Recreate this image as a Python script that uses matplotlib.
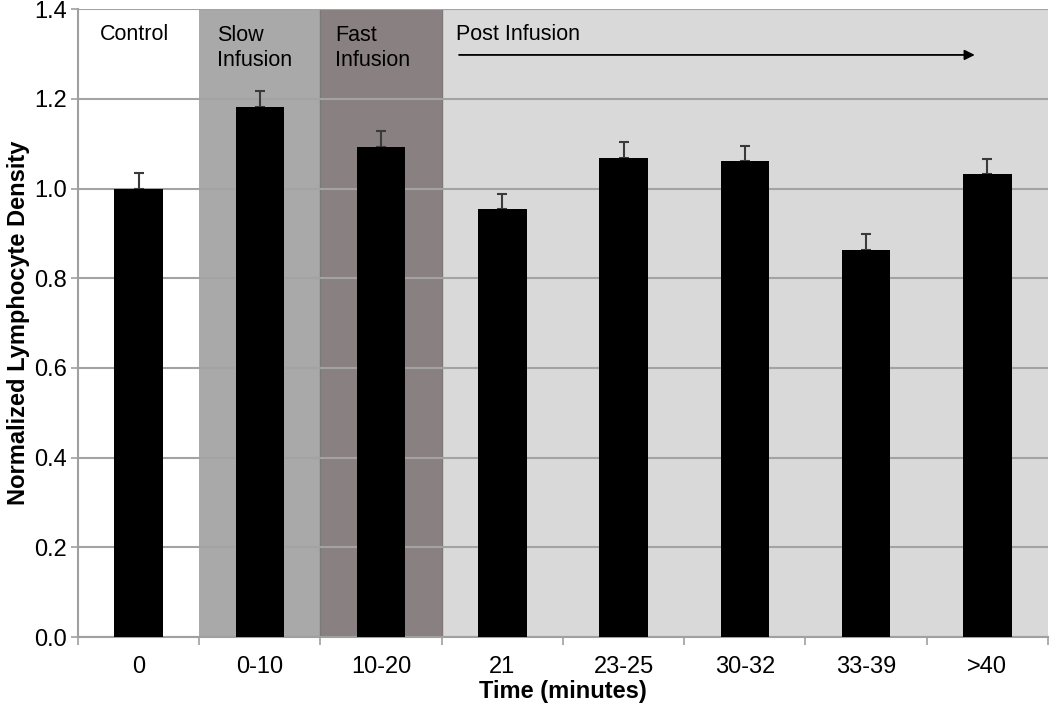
import numpy as np
import matplotlib.pyplot as plt

plt.rcParams['font.family'] = ['Liberation Sans', 'DejaVu Sans']

categories = ['0', '0-10', '10-20', '21', '23-25', '30-32', '33-39', '>40']
density = [1.000, 1.182, 1.093, 0.954, 1.069, 1.061, 0.864, 1.032]
err_up = [0.034, 0.036, 0.036, 0.033, 0.034, 0.035, 0.034, 0.034]
yticks = [0.0, 0.2, 0.4, 0.6, 0.8, 1.0, 1.2, 1.4]

fig = plt.figure(figsize=(10.5, 7.07), dpi=100)
ax = fig.add_axes([0.0743, 0.099, 0.9237, 0.888])

x = np.arange(len(categories))
ax.set_xlim(-0.5, len(categories) - 0.5)
ax.set_ylim(0, 1.4)

# phase shading
ax.axvspan(0.5, 1.5, color='#a9a9a9', zorder=0, lw=0)
ax.axvspan(1.5, 2.5, color='#898181', zorder=0, lw=0)
ax.axvspan(2.5, 7.5, color='#d9d9d9', zorder=0, lw=0)
ax.axvline(1.5, color='#7a7a7a', lw=1, zorder=0.5)
ax.axvline(2.5, color='#7f7777', lw=1, zorder=0.5)

ax.set_yticks(yticks)
ax.set_yticklabels([f'{v:.1f}' for v in yticks])
ax.grid(axis='y', color='#a3a3a3', lw=1.5, zorder=1)
ax.set_axisbelow(True)

ax.errorbar(x, density, yerr=[np.zeros(len(err_up)), err_up], fmt='none',
            ecolor='#3a3a3a', elinewidth=1.5, capsize=3.5, capthick=1.5, zorder=2)
ax.bar(x, density, width=0.4, color='black', zorder=3)

ax.set_xticks(x)
ax.set_xticklabels(categories)
ax.set_xticks(np.arange(-0.5, len(categories)), minor=True)
ax.tick_params(axis='x', which='major', length=0, labelsize=17, pad=14)
ax.tick_params(axis='x', which='minor', length=6, width=1.2, color='#a0a0a0')
ax.tick_params(axis='y', length=5, width=1.2, color='#a0a0a0', labelsize=17, pad=3)

for s in ['top', 'right']:
    ax.spines[s].set_visible(False)
for s in ['left', 'bottom']:
    ax.spines[s].set_color('#a0a0a0')
    ax.spines[s].set_linewidth(1.5)

ax.set_xlabel('Time (minutes)', fontsize=17, fontweight='bold', labelpad=1)
ax.set_ylabel('Normalized Lymphocyte Density', fontsize=17, fontweight='bold', labelpad=3)

ax.text(-0.32, 1.343, 'Control', fontsize=15.5, va='center', ha='left')
ax.text(0.646, 1.365, 'Slow\nInfusion', fontsize=15.5, va='top', ha='left', linespacing=1.28)
ax.text(1.62, 1.365, 'Fast\nInfusion', fontsize=15.5, va='top', ha='left', linespacing=1.28)
ax.text(2.62, 1.343, 'Post Infusion', fontsize=15.5, va='center', ha='left')
ax.annotate('', xy=(6.92, 1.298), xytext=(2.62, 1.298),
            arrowprops=dict(arrowstyle='-|>', color='black', lw=1.3, mutation_scale=15))

fig.savefig('out.png', dpi=100)
